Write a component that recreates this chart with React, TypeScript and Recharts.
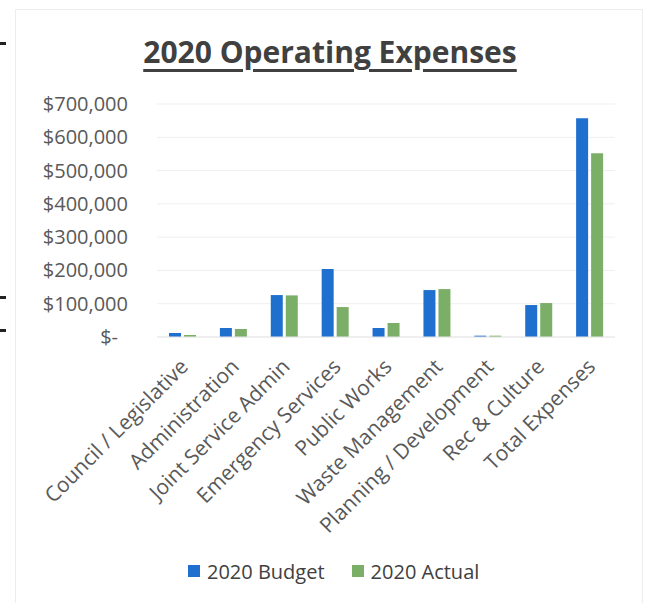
import { BarChart, Bar, XAxis, YAxis, CartesianGrid, Legend } from "recharts";

// Categories and values
const CATEGORIES = [
  "Council / Legislative",
  "Administration",
  "Joint Service Admin",
  "Emergency Services",
  "Public Works",
  "Waste Management",
  "Planning / Development",
  "Rec & Culture",
  "Total Expenses",
];
const BUDGET = [12000, 27000, 126000, 204000, 27000, 141000, 4000, 96000, 657000];
const ACTUAL = [6000, 24000, 125000, 90000, 42000, 144000, 4000, 102000, 552000];
const Y_TICKS = [0, 100000, 200000, 300000, 400000, 500000, 600000, 700000];

const BLUE = "#1f6fcf";
const GREEN = "#7baf68";
const TEXT = "#595959";
const FONT = "'Open Sans', sans-serif";

const data = CATEGORIES.map((name, i) => ({
  name,
  budget: BUDGET[i],
  actual: ACTUAL[i],
}));

const money = (v: number) => (v === 0 ? "$-" : "$" + v.toLocaleString("en-US"));

// Y tick: accounting style, the zero label sits a little left
function YTick(props: any) {
  const { x, y, payload } = props;
  const shift = payload.value === 0 ? -10 : 0;
  return (
    <text x={x + shift} y={y} dy={7} textAnchor="end" fill={TEXT} fontSize={20} fontFamily={FONT}>
      {money(payload.value)}
    </text>
  );
}

// X tick: rotated 45 degrees, ending just under the bars
function XTick(props: any) {
  const { x, y, payload } = props;
  const ax = x + 7;
  const ay = y + 31;
  return (
    <text
      x={ax}
      y={ay}
      textAnchor="end"
      fill={TEXT}
      fontSize={21}
      fontFamily={FONT}
      transform={`rotate(-45, ${ax}, ${ay})`}
    >
      {payload.value}
    </text>
  );
}

function LegendBox() {
  const item = (color: string, label: string) => (
    <span style={{ display: "inline-flex", alignItems: "center", marginRight: 27 }}>
      <span style={{ width: 12, height: 12, background: color, display: "inline-block", marginRight: 7 }} />
      <span style={{ fontSize: 20, color: "#404040", fontFamily: FONT }}>{label}</span>
    </span>
  );
  return (
    <div style={{ paddingLeft: 188, display: "flex", alignItems: "center", height: 36 }}>
      {item(BLUE, "2020 Budget")}
      {item(GREEN, "2020 Actual")}
    </div>
  );
}

export default function App() {
  return (
    <div style={{ position: "absolute", top: 0, left: 0, width: 645, height: 603, background: "#fff", fontFamily: FONT }}>
      {/* faint page frame and margin marks from the scan */}
      <div style={{ position: "absolute", left: 15, top: 9, width: 626, height: 600, border: "1px solid #ededed" }} />
      {[42, 296, 329].map((t) => (
        <div key={t} style={{ position: "absolute", left: 0, top: t, width: 6, height: 3, background: "#222" }} />
      ))}

      <div
        style={{
          position: "absolute",
          left: 0,
          top: 34,
          width: 660,
          textAlign: "center",
          fontSize: 30,
          lineHeight: "36px",
          fontWeight: 700,
          color: "#404040",
          textDecoration: "underline",
          textDecorationThickness: 3,
          textUnderlineOffset: 6,
        }}
      >
        2020 Operating Expenses
      </div>

      <BarChart
        width={645}
        height={603}
        data={data}
        margin={{ top: 104, right: 30, left: 0, bottom: 14 }}
        barSize={12}
        barGap={3}
        style={{ position: "absolute", top: 0, left: 0 }}
      >
        <CartesianGrid vertical={false} stroke="#efefef" />
        <YAxis
          width={157}
          domain={[0, 700000]}
          ticks={Y_TICKS}
          axisLine={false}
          tickLine={false}
          tickSize={0}
          tickMargin={29}
          tick={<YTick />}
          interval={0}
        />
        <XAxis
          dataKey="name"
          height={216}
          interval={0}
          axisLine={{ stroke: "#e6e6e6" }}
          tickLine={false}
          tickSize={0}
          tickMargin={0}
          tick={<XTick />}
        />
        <Legend verticalAlign="bottom" height={36} content={<LegendBox />} />
        <Bar dataKey="budget" name="2020 Budget" fill={BLUE} isAnimationActive={false} />
        <Bar dataKey="actual" name="2020 Actual" fill={GREEN} isAnimationActive={false} />
      </BarChart>
    </div>
  );
}
